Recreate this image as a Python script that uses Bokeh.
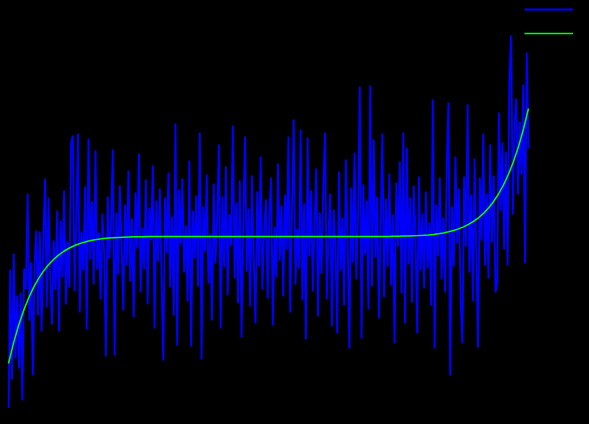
import numpy as np
from bokeh.plotting import figure
from bokeh.models import Range1d, Legend, LegendItem, GlobalInlineStyleSheet
from bokeh.embed import file_html
from bokeh.resources import INLINE

# noisy measurements (300 samples over x in [-1, 1])
noisy_y = [
    -18.9, -3.3, -14.3, -1.7, -12.2, -5.9, -13.2, -5.6, -16.4, -3.2,
    -5.3, 4.3, -8.4, -2.6, -13.9, -2.8, 0.6, -7.9, 0.5, -9.5,
    -0.7, 5.8, -7.1, 3.9, -4.1, -8.8, -0.4, -5.3, 2.6, -9.5,
    1.6, -4.1, 4.6, -6.8, -0.5, -5.1, 9.3, 10.1, -5.5, 1.9,
    10.3, -7.6, 0.5, -3.4, 5.0, -9.3, 9.8, -2.3, 3.5, -4.8,
    8.6, -3.3, 0.4, -6.3, 2.3, -1.6, -12.0, 4.0, -2.2, 1.4,
    8.7, -11.9, 2.4, -3.8, 5.1, -0.6, -7.4, 3.2, -2.9, 6.6,
    -4.5, 1.8, -8.1, 4.4, -1.2, 8.3, -5.6, 0.9, -3.3, 5.7,
    -6.8, 2.9, -0.4, 7.1, -9.2, 3.6, -2.5, 4.8, -4.0, -12.4,
    3.9, -1.7, 6.4, -5.1, 2.0, -7.9, 11.3, -10.9, 4.7, -0.8,
    5.8, -3.6, 1.1, -6.5, 7.6, -11.0, 2.6, -2.2, 4.1, -5.0,
    10.4, -12.3, 3.0, -1.5, 6.2, -4.7, 0.3, -8.4, 5.3, -2.7,
    1.9, 9.2, -9.2, 4.0, -3.1, 7.0, -5.9, 2.2, -0.9, 11.1,
    -4.2, 3.4, -6.7, 5.6, -10.1, 1.3, 10.0, -3.5, 2.8, -7.0,
    6.1, -1.9, -8.7, 4.5, -3.0, 8.0, -5.3, 0.6, 3.7, -6.2,
    2.1, 5.9, -8.9, 1.0, -4.1, 7.3, -2.4, 3.1, -6.0, 4.2,
    -1.3, 10.0, -7.6, 2.5, 11.7, -4.8, 0.8, -3.2, 10.7, -6.4,
    3.3, -10.3, 9.9, -2.0, 4.6, -5.5, 1.6, 6.8, -8.0, 2.4,
    -3.7, 5.0, 10.4, -6.3, 0.2, 4.3, -9.0, 2.7, -1.1, -9.7,
    6.5, -3.4, 1.9, -6.9, 7.7, -0.5, -11.2, 4.9, -2.6, 8.4,
    -4.3, 2.0, 15.0, -10.2, 5.2, -1.8, 3.6, -7.3, 15.1, -5.0,
    9.7, -2.1, 4.0, -8.2, 1.5, 10.3, -6.1, 3.8, -3.0, 6.3,
    -4.9, 2.2, -10.7, 5.4, -1.0, 7.5, -5.7, 10.4, -8.7, 8.9,
    -2.8, 3.9, -6.6, 5.1, 0.4, -9.7, 6.0, -3.4, 2.3, -5.2,
    4.5, -3.2, 1.4, -6.9, 13.7, -11.2, 3.2, -2.0, 5.9, -4.3,
    1.9, -5.6, 7.2, 13.4, -13.9, 3.0, -3.0, 8.0, -0.7, 4.8,
    -6.3, -10.7, 6.0, -1.0, 13.2, -3.6, 4.2, -6.5, 7.8, -1.6,
    -11.1, 5.9, -0.4, 10.3, -2.9, 4.3, -4.2, 9.2, -0.6, 6.1,
    -5.6, -4.7, 12.4, 2.6, 9.4, -1.3, 8.5, -2.9, 15.4, 20.1,
    2.2, 11.4, 13.8, 4.2, 11.5, 6.2, 15.2, -2.7, 18.4, 8.8,
]

# polynomial fit curve (105 samples over x in [-1, 1])
fit_y = [
    -12.70, -10.66, -8.92, -7.44, -6.18, -5.11, -4.21, -3.46, -2.82, -2.30,
    -1.86, -1.50, -1.20, -0.95, -0.75, -0.59, -0.46, -0.36, -0.28, -0.21,
    -0.16, -0.12, -0.09, -0.07, -0.05, -0.03, -0.02, -0.02, -0.01, -0.01,
    0.0, 0.0, 0.0, 0.0, 0.0, 0.0, 0.0, 0.0, 0.0, 0.0,
    0.0, 0.0, 0.0, 0.0, 0.0, 0.0, 0.0, 0.0, 0.0, 0.0,
    0.0, 0.0, 0.0, 0.0, 0.0, 0.0, 0.0, 0.0, 0.0, 0.0,
    0.0, 0.0, 0.0, 0.0, 0.0, 0.0, 0.0, 0.0, 0.0, 0.0,
    0.0, 0.0, 0.0, 0.0, 0.0,
    0.01, 0.01, 0.02, 0.03, 0.04, 0.05, 0.07, 0.09, 0.12, 0.16,
    0.21, 0.28, 0.36, 0.47, 0.60, 0.76, 0.96, 1.21, 1.51, 1.87,
    2.31, 2.85, 3.48, 4.25, 5.15, 6.23, 7.50, 8.99, 10.75, 12.80,
]

# legend entries (the reference shows only the legend's line swatches)
series_labels = ["", ""]

noisy_x = np.linspace(-1.0, 1.0, len(noisy_y))
fit_x = np.linspace(-1.0, 1.0, len(fit_y))

W, H = 573, 408
p = figure(
    width=W, height=H,
    x_range=Range1d(-1.0 - 8 / 260.0, -1.0 + (W - 8) / 260.0),
    y_range=Range1d(-17.2, 23.6),
    x_axis_type=None, y_axis_type=None,
    toolbar_location=None, output_backend="svg",
    background_fill_color="black", border_fill_color="black",
    outline_line_color=None, min_border=0,
)

r_data = p.line(noisy_x, noisy_y, line_color="blue", line_width=1.9)
r_fit = p.line(fit_x, fit_y, line_color="lime", line_width=1.5)

legend = Legend(
    items=[LegendItem(label=series_labels[0], renderers=[r_data]),
           LegendItem(label=series_labels[1], renderers=[r_fit])],
    location=(524, 365.5),
    glyph_width=70, glyph_height=20, label_height=20,
    spacing=4, padding=0, margin=0, label_standoff=0,
    border_line_alpha=0, background_fill_alpha=0,
    label_text_color="white",
)
p.add_layout(legend)

p.stylesheets = [GlobalInlineStyleSheet(css="html, body { background-color: #000000; }")]

open("out.html", "w").write(file_html(p, INLINE))
